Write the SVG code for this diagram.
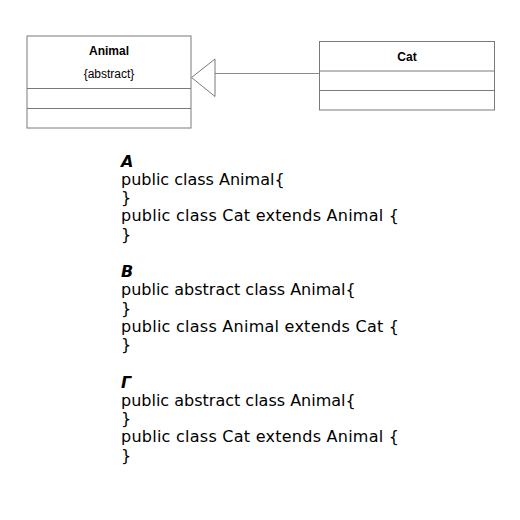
<svg xmlns="http://www.w3.org/2000/svg" width="520" height="520" viewBox="0 0 520 520">
<style>
.box{fill:#ffffff;stroke:#7a7a7a;stroke-width:1}
.div{stroke:#7a7a7a;stroke-width:1}
.name{font-family:"Liberation Sans",Arial,sans-serif;font-size:12px;font-weight:bold;fill:#000;text-anchor:middle}
.st{font-family:"Liberation Sans",Arial,sans-serif;font-size:12px;fill:#000;text-anchor:middle}
.code{font-family:"DejaVu Sans",Verdana,sans-serif;font-size:16px;fill:#000}
.hd{font-family:"DejaVu Sans",Verdana,sans-serif;font-size:16px;font-weight:bold;font-style:italic;fill:#000}
</style>
<rect width="520" height="520" fill="#ffffff"/>
<g id="connectors">
<line x1="215" y1="73.5" x2="319" y2="73.5" stroke="#8a8a8a" stroke-width="1"/>
<polygon points="191.5,77.5 215,59 215,96.5" fill="#ffffff" stroke="#7a7a7a" stroke-width="1"/>
</g>
<g id="animal">
<rect class="box" x="27" y="36" width="164" height="92"/>
<line class="div" x1="27" y1="88.5" x2="191" y2="88.5"/>
<line class="div" x1="27" y1="108.5" x2="191" y2="108.5"/>
<text class="name" x="109" y="55">Animal</text>
<text class="st" x="109" y="78">{abstract}</text>
</g>
<g id="cat">
<rect class="box" x="319.5" y="41.5" width="175" height="68.5"/>
<line class="div" x1="319.5" y1="71" x2="494.5" y2="71"/>
<line class="div" x1="319.5" y1="90.5" x2="494.5" y2="90.5"/>
<text class="name" x="407" y="61">Cat</text>
</g>
<g id="code">
<text class="hd" x="121" y="166.5">A</text>
<text class="code" x="121" y="184.8">public class Animal{</text>
<text class="code" x="121" y="203.1">}</text>
<text class="code" x="121" y="221.4" textLength="278" lengthAdjust="spacing">public class Cat extends Animal {</text>
<text class="code" x="121" y="239.7">}</text>
<text class="hd" x="121" y="277">B</text>
<text class="code" x="121" y="295.3">public abstract class Animal{</text>
<text class="code" x="121" y="313.6">}</text>
<text class="code" x="121" y="331.9" textLength="278" lengthAdjust="spacing">public class Animal extends Cat {</text>
<text class="code" x="121" y="350.2">}</text>
<text class="hd" x="121" y="387.5">Г</text>
<text class="code" x="121" y="405.8">public abstract class Animal{</text>
<text class="code" x="121" y="424.1">}</text>
<text class="code" x="121" y="442.4" textLength="278" lengthAdjust="spacing">public class Cat extends Animal {</text>
<text class="code" x="121" y="460.7">}</text>
</g>
</svg>
